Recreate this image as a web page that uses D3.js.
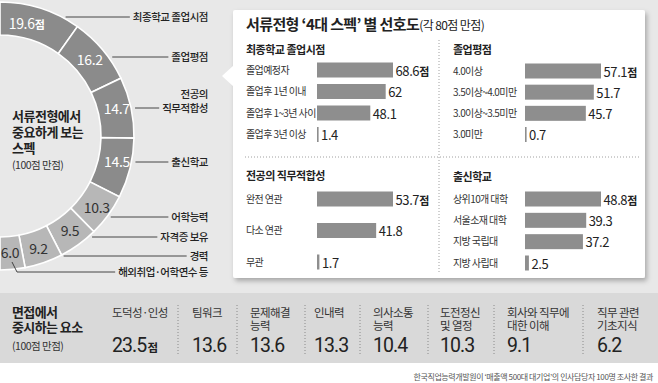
<!DOCTYPE html>
<html><head><meta charset="utf-8">
<script src="https://cdnjs.cloudflare.com/ajax/libs/d3/7.8.5/d3.min.js"></script>
<style>
html,body{margin:0;padding:0;background:#fff;}
svg{display:block;font-family:"Noto Sans CJK KR","Noto Sans",sans-serif;}
</style></head>
<body><svg id="c" width="658" height="383"></svg>
<script>
// ---------- data ----------
const specLabels = ["최종학교 졸업시점","졸업평점","전공의 직무적합성","출신학교","어학능력","자격증 보유","경력","해외취업·어학연수 등"];
const specValues = [19.6,16.2,14.7,14.5,10.3,9.5,9.2,6.0];

const p1Title = "최종학교 졸업시점";
const p1Cats = ["졸업예정자","졸업후 1년 이내","졸업후 1~3년 사이","졸업후 3년 이상"];
const p1Vals = [68.6,62,48.1,1.4];
const p2Title = "졸업평점";
const p2Cats = ["4.0이상","3.5이상~4.0미만","3.0이상~3.5미만","3.0미만"];
const p2Vals = [57.1,51.7,45.7,0.7];
const p3Title = "전공의 직무적합성";
const p3Cats = ["완전 연관","다소 연관","무관"];
const p3Vals = [53.7,41.8,1.7];
const p4Title = "출신학교";
const p4Cats = ["상위10개 대학","서울소재 대학","지방 국립대","지방 사립대"];
const p4Vals = [48.8,39.3,37.2,2.5];

const interviewLabels = [["도덕성·인성"],["팀워크"],["문제해결","능력"],["인내력"],["의사소통","능력"],["도전정신","및 열정"],["회사와 직무에","대한 이해"],["직무 관련","기초지식"]];
const interviewValues = [23.5,13.6,13.6,13.3,10.4,10.3,9.1,6.2];

// ---------- layout ----------
const svg = d3.select("#c");
const TOPBG = "#e8e8e8", BAND = "#d9d9d9", DARK = "#8b8b8b", LIGHT = "#b7b7b7", BAR = "#8e8e8e", TXT = "#222";

svg.append("rect").attr("width",658).attr("height",293).attr("fill",TOPBG);
svg.append("rect").attr("y",293).attr("width",658).attr("height",70).attr("fill",BAND);
svg.append("rect").attr("y",363).attr("width",658).attr("height",20).attr("fill","#fff");

// ---------- donut (half) ----------
const cx = 0, cy = 136, rIn = 101, rOut = 134;
const pie = d3.pie().sort(null).startAngle(0).endAngle(Math.PI).value(d=>d);
const arcs = pie(specValues);
const arc = d3.arc().innerRadius(rIn).outerRadius(rOut);
const mid = (rIn+rOut)/2;
const lblArc = d3.arc().innerRadius(mid).outerRadius(mid);
const dg = svg.append("g").attr("transform",`translate(${cx},${cy})`);
dg.selectAll("path").data(arcs).join("path")
  .attr("d",arc).attr("fill",(d,i)=>i<4?DARK:LIGHT)
  .attr("stroke","#fff").attr("stroke-width",1.6);
const lblDx = [-9,0,2,3,2,1,0,-1];
const lblDy = [0,0,-2,-2,2,0,2,0];
dg.selectAll("text.v").data(arcs).join("text").attr("class","v")
  .attr("x",(d,i)=>lblArc.centroid(d)[0]+lblDx[i])
  .attr("y",(d,i)=>lblArc.centroid(d)[1]+lblDy[i])
  .attr("dy","0.36em").attr("text-anchor","middle")
  .attr("font-size",14).attr("letter-spacing",-0.3)
  .attr("fill",(d,i)=>i<4?"#fff":"#333")
  .each(function(d,i){
    const t = d3.select(this);
    t.append("tspan").text(d3.format(".1f")(d.data));
    if(i===0) t.append("tspan").attr("font-size",11).attr("font-weight","bold").text("점");
  });

// leader labels
const labelY = [17,57,108,162,217,237,256,272];
const labelRight = 208;
const lg = svg.append("g");
specLabels.forEach((name,i)=>{
  const y = labelY[i];
  let lines = [name];
  if(i===2) lines = ["전공의","직무적합성"];
  const t = lg.append("text").attr("text-anchor","end").attr("font-size",10.5)
    .attr("letter-spacing",-0.5).attr("fill",TXT).attr("font-weight",500);
  lines.forEach((l,k)=>{
    t.append("tspan").attr("x",labelRight).attr("y",y-(lines.length-1-k)*14).attr("dy","0.36em").text(l);
  });
  const w = t.select("tspan:last-child").node().getComputedTextLength();
  const xEnd = labelRight - w - 3;
  if(i===7){
    lg.append("polyline").attr("points",`12,262 17,272 ${xEnd},272`)
      .attr("fill","none").attr("stroke","#333").attr("stroke-width",0.9);
  } else {
    const dy = y - cy;
    const xStart = cx + Math.sqrt(rOut*rOut - dy*dy) + 4;
    lg.append("line").attr("x1",xStart).attr("x2",xEnd).attr("y1",y).attr("y2",y)
      .attr("stroke","#333").attr("stroke-width",0.9);
  }
});

// center text
const ct = svg.append("text").attr("font-size",13).attr("font-weight","bold").attr("fill","#222").attr("letter-spacing",-0.5);
["서류전형에서","중요하게 보는","스펙"].forEach((s,k)=>{
  ct.append("tspan").attr("x",12).attr("y",116+k*16).attr("dy","0.36em").text(s);
});
svg.append("text").attr("x",12).attr("y",165).attr("dy","0.36em").attr("font-size",10.5)
  .attr("letter-spacing",-0.5).attr("fill","#333").text("(100점 만점)");

// ---------- right panel ----------
const defs = svg.append("defs");
const f = defs.append("filter").attr("id","sh").attr("x","-5%").attr("y","-5%").attr("width","115%").attr("height","120%");
f.append("feDropShadow").attr("dx",2).attr("dy",3).attr("stdDeviation",2.5).attr("flood-color","#000").attr("flood-opacity",0.28);
svg.append("rect").attr("x",233).attr("y",10).attr("width",412).attr("height",268).attr("rx",2)
  .attr("fill","#fff").attr("filter","url(#sh)");
svg.append("polygon").attr("points","222,76 234,65 234,87").attr("fill","#fff");

const title = svg.append("text").attr("x",246).attr("y",24).attr("dy","0.36em").attr("fill","#222");
title.append("tspan").attr("font-size",15).attr("font-weight","bold").attr("letter-spacing",-0.6).text("서류전형 ‘4대 스펙’ 별 선호도");
title.append("tspan").attr("font-size",12).attr("letter-spacing",-0.6).text("(각 80점 만점)");

// dotted dividers
svg.append("line").attr("x1",439).attr("x2",439).attr("y1",40).attr("y2",272)
  .attr("stroke","#888").attr("stroke-width",0.8).attr("stroke-dasharray","1,2");
svg.append("line").attr("x1",245).attr("x2",640).attr("y1",157).attr("y2",157)
  .attr("stroke","#888").attr("stroke-width",0.8).attr("stroke-dasharray","1,2");

function panel(titleTxt, cats, vals, x0, barX, yTitle, yFirst, yLast){
  const g = svg.append("g");
  g.append("text").attr("x",x0).attr("y",yTitle).attr("dy","0.36em").attr("font-size",11)
    .attr("font-weight","bold").attr("letter-spacing",-0.5).attr("fill","#222").text(titleTxt);
  const y = d3.scalePoint().domain(cats).range([yFirst,yLast]);
  const x = d3.scaleLinear().domain([0,d3.max(vals)]).range([0,76]);
  const bh = 15;
  cats.forEach((c,i)=>{
    g.append("text").attr("x",x0).attr("y",y(c)).attr("dy","0.36em").attr("font-size",10)
      .attr("letter-spacing",-0.6).attr("fill","#333").text(c);
    const w = Math.max(x(vals[i]),1.6);
    g.append("rect").attr("x",barX).attr("y",y(c)-bh/2).attr("width",w).attr("height",bh).attr("fill",BAR);
    const t = g.append("text").attr("x",barX+w+2.5).attr("y",y(c)+1).attr("dy","0.36em")
      .attr("font-size",13).attr("letter-spacing",-0.4).attr("fill","#222");
    t.append("tspan").text(vals[i]);
    if(i===0) t.append("tspan").attr("font-size",11).attr("font-weight","bold").text("점");
  });
}
panel(p1Title,p1Cats,p1Vals,246,317,50,70,134.5);
panel(p2Title,p2Cats,p2Vals,453,525,50,71,134.5);
panel(p3Title,p3Cats,p3Vals,246,317,176,199,262);
panel(p4Title,p4Cats,p4Vals,453,525,177,199,263);

// ---------- interview band ----------
const bt = svg.append("text").attr("font-size",13).attr("font-weight","bold").attr("fill","#222").attr("letter-spacing",-0.6);
["면접에서","중시하는 요소"].forEach((s,k)=>bt.append("tspan").attr("x",12).attr("y",312+k*15.5).attr("dy","0.36em").text(s));
svg.append("text").attr("x",12).attr("y",346).attr("dy","0.36em").attr("font-size",10.5)
  .attr("letter-spacing",-0.5).attr("fill","#333").text("(100점 만점)");

const colX = [112,192,250,314,373,440,507,597];
const sepX = [178,237,305,360,428,494,583];
sepX.forEach(x=>svg.append("line").attr("x1",x).attr("x2",x).attr("y1",305).attr("y2",354)
  .attr("stroke","#777").attr("stroke-width",0.8).attr("stroke-dasharray","1,2"));
interviewLabels.forEach((lines,i)=>{
  const t = svg.append("text").attr("font-size",11.5).attr("letter-spacing",-0.6).attr("fill","#333");
  lines.forEach((l,k)=>t.append("tspan").attr("x",colX[i]).attr("y",312.5+k*13.5).attr("dy","0.36em").text(l));
  const v = svg.append("text").attr("x",colX[i]).attr("y",352).attr("font-size",19.5)
    .attr("font-family","Roboto, 'Noto Sans', sans-serif").attr("letter-spacing",-0.9).attr("fill","#222");
  v.append("tspan").text(interviewValues[i]);
  if(i===0) v.append("tspan").attr("font-size",11.5).attr("font-weight","bold")
    .attr("font-family","'Noto Sans CJK KR'").attr("dx",1).text("점");
});

svg.append("text").attr("x",653).attr("y",377).attr("dy","0.36em").attr("text-anchor","end")
  .attr("font-size",8).attr("letter-spacing",-0.4).attr("fill","#555")
  .text("한국직업능력개발원이 ‘매출액 500대 대기업’의 인사담당자 100명 조사한 결과");
</script></body></html>
